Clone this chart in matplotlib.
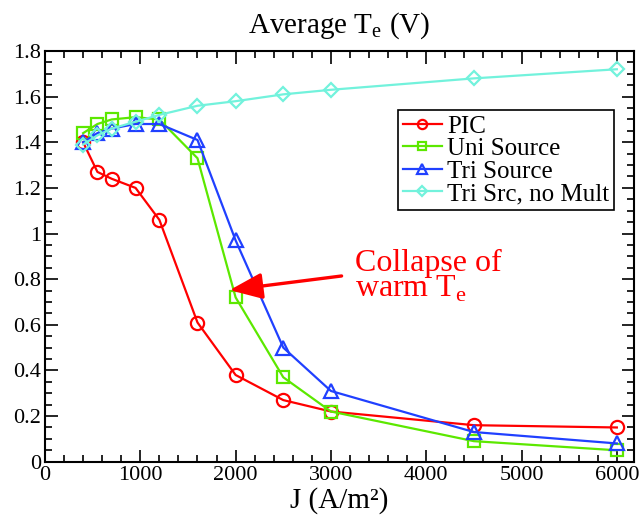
import numpy as np
import matplotlib
matplotlib.use("Agg")
import matplotlib.pyplot as plt
from matplotlib.ticker import MultipleLocator

plt.rcParams['font.family'] = ['Liberation Serif', 'DejaVu Serif']
plt.rcParams['mathtext.fontset'] = 'custom'
plt.rcParams['mathtext.rm'] = 'Liberation Serif'

J = [400, 550, 700, 950, 1200, 1600, 2000, 2500, 3000, 4500, 6000]
pic = [1.40, 1.27, 1.24, 1.20, 1.06, 0.61, 0.38, 0.27, 0.22, 0.16, 0.15]
uni = [1.44, 1.48, 1.50, 1.51, 1.50, 1.33, 0.72, 0.37, 0.22, 0.09, 0.05]
tri = [1.40, 1.44, 1.46, 1.48, 1.48, 1.41, 0.97, 0.50, 0.31, 0.13, 0.08]
tri_nomult = [1.39, 1.43, 1.46, 1.49, 1.52, 1.56, 1.58, 1.61, 1.63, 1.68, 1.72]

fig = plt.figure(figsize=(6.4, 5.18), dpi=100)
ax = fig.add_axes([45/640, 1-461.7/518, (634-45)/640, (461.7-51)/518])

kw = dict(lw=1.6, mfc='none', mew=1.6)
ax.plot(J, pic, '-o', color='#ff0000', ms=9.5, label='PIC', **kw)
ax.plot(J, uni, '-s', color='#5ce800', ms=8.5, label='Uni Source', **kw)
ax.plot(J, tri, '-^', color='#2040ff', ms=10, label='Tri Source', **kw)
ax.plot(J, tri_nomult, '-D', color='#72f2dc', ms=7.5, label='Tri Src, no Mult', **kw)

ax.set_xlim(0, 6180)
ax.set_ylim(0, 1.8)
ax.xaxis.set_major_locator(MultipleLocator(1000))
ax.xaxis.set_minor_locator(MultipleLocator(200))
ax.yaxis.set_major_locator(MultipleLocator(0.2))
ax.yaxis.set_minor_locator(MultipleLocator(0.05))
ax.yaxis.set_major_formatter(plt.FuncFormatter(lambda v, p: ('%.1f' % v).rstrip('0').rstrip('.')))
ax.tick_params(which='both', direction='in', top=True, right=True, width=1.2, labelsize=16)
ax.tick_params(axis='x', pad=3)
ax.tick_params(axis='y', pad=3)
ax.tick_params(which='major', length=9)
ax.tick_params(which='minor', length=5)
for s in ax.spines.values():
    s.set_linewidth(1.5)

ax.set_title('Average T$_\\mathrm{e}$ (V)', fontsize=21, pad=13)
ax.set_xlabel('J (A/m²)', fontsize=21)
ax.xaxis.set_label_coords(0.5, -0.062)

# arrow and note
ax.annotate('', xy=(1937, 0.752), xytext=(3112, 0.814),
            arrowprops=dict(arrowstyle='-|>,head_length=1.0,head_width=0.4',
                            mutation_scale=20, color='red', lw=2.4,
                            shrinkA=0, shrinkB=0))
ax.text(3250, 0.812, 'Collapse of\nwarm T$_\\mathrm{e}$', color='red', fontsize=23,
        linespacing=0.82, va='center', ha='left')

leg = ax.legend(loc='upper right', bbox_to_anchor=(0.966, 0.856), fontsize=18,
                handlelength=1.55, handletextpad=0.2, labelspacing=0.0,
                borderpad=0.2, borderaxespad=0, fancybox=False, framealpha=1,
                edgecolor='black', markerscale=0.7)
leg.get_frame().set_linewidth(1.2)

fig.savefig('out.png', dpi=100)
